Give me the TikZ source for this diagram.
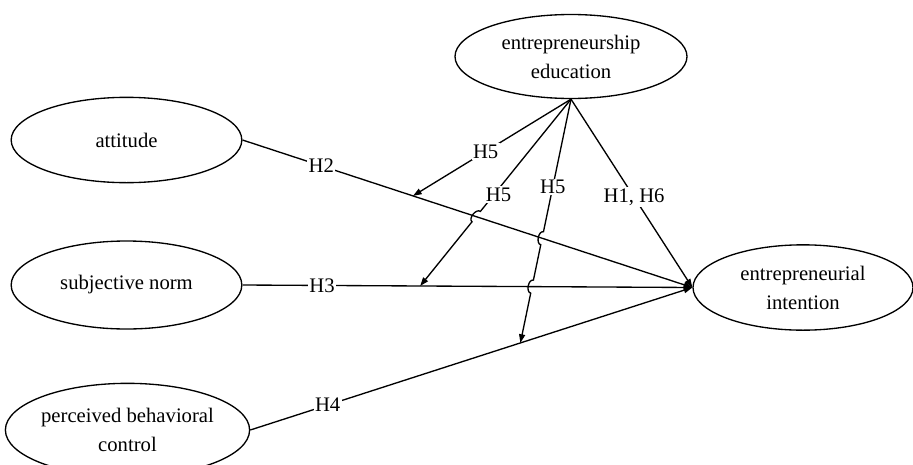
\documentclass[tikz,border=0pt]{standalone}
\usepackage{fontspec}
\setmainfont{Liberation Serif}
\usetikzlibrary{shapes.geometric,arrows.meta,calc,intersections}
\begin{document}
\begin{tikzpicture}[x=0.75pt,y=-0.75pt,
  every node/.style={font=\fontsize{15.5}{21.75}\selectfont},
  construct/.style={draw,ellipse,line width=1pt,inner sep=0pt,align=center},
  arr/.style={line width=1pt,-{Triangle[length=6.5pt,width=4.5pt]}},
  lab/.style={fill=white,inner sep=1pt}]
\useasboundingbox (0,0) rectangle (913,464);
\node[construct,minimum width=173pt,minimum height=64pt] (att) at (126.5,140) {attitude};
\node[construct,minimum width=173pt,minimum height=66pt] (sn) at (126.5,285) {subjective norm};
\node[construct,minimum width=173pt,minimum height=70pt] (pbc) at (127.5,430) {perceived behavioral\\control};
\node[construct,minimum width=165pt,minimum height=64pt] (int) at (803,287.5) {entrepreneurial\\intention};
\node[construct,minimum width=174pt,minimum height=63pt] (edu) at (571,56.5) {entrepreneurship\\education};
% main paths
\draw[arr,name path=la] (att.east) -- (int.west);
\draw[arr,name path=ls] (sn.east) -- (int.west);
\draw[arr] (pbc.east) -- (int.west);
\draw[arr] (edu.south) -- (int.west);
% moderation targets
\coordinate (t1) at ($(att.east)!0.379!(int.west)$);
\coordinate (t2) at ($(sn.east)!0.395!(int.west)$);
\coordinate (t3) at ($(pbc.east)!0.611!(int.west)$);
\path[name path=m2] (edu.south) -- (t2);
\path[name path=m3] (edu.south) -- (t3);
\path[name intersections={of=m2 and la,by=x2}];
\path[name intersections={of=m3 and la,by=x3a}];
\path[name intersections={of=m3 and ls,by=x3b}];
\draw[arr] (edu.south) -- (t1);
\draw[arr] (edu.south) -- ($(x2)!5pt!(edu.south)$) to[bend right=90] ($(x2)!5pt!(t2)$) -- (t2);
\draw[arr] (edu.south) -- ($(x3a)!5pt!(edu.south)$) to[bend right=90] ($(x3a)!5pt!(t3)$)
  -- ($(x3b)!5pt!(edu.south)$) to[bend right=90] ($(x3b)!5pt!(t3)$) -- (t3);
% labels
\node[lab] (h2) at ($(att.east)!0.175!(int.west)$) {H2};
\node[lab] (h3) at ($(sn.east)!0.177!(int.west)$) {H3};
\node[lab] (h4) at ($(pbc.east)!0.175!(int.west)$) {H4};
\node[lab] (h5a) at ($(edu.south)!0.54!(t1)$) {H5};
\node[lab] (h5b) at ($(edu.south)!0.5!(t2)+(3,2)$) {H5};
\node[lab] (h5c) at ($(edu.south)!0.36!(t3)$) {H5};
\node[lab] (h16) at ($(edu.south)!0.52!(int.west)$) {H1, H6};
\end{tikzpicture}
\end{document}
